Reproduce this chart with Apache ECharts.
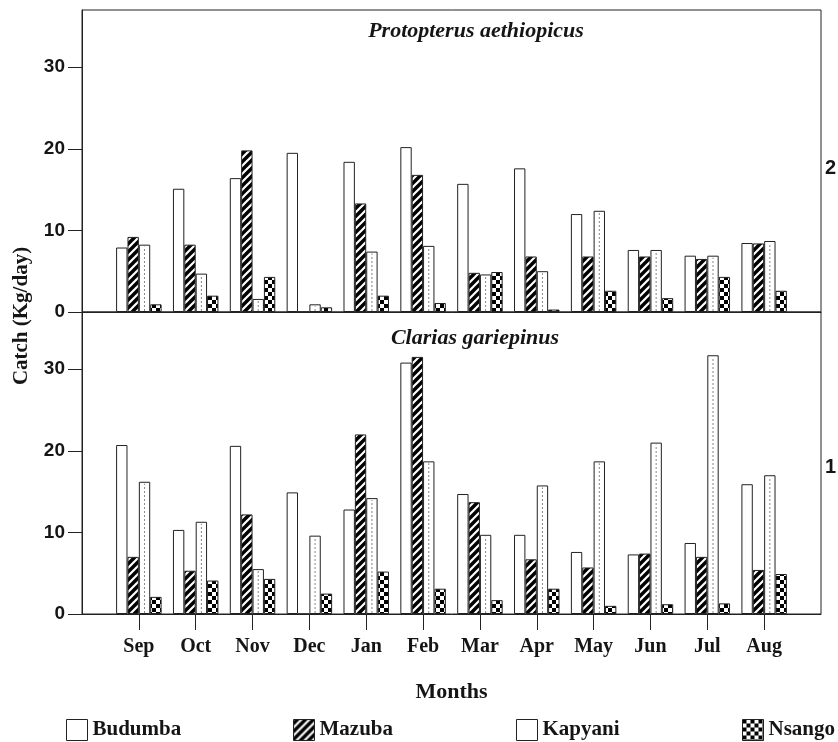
<!DOCTYPE html>
<html><head><meta charset="utf-8">
<script src="https://cdn.jsdelivr.net/npm/echarts@6/dist/echarts.min.js"></script>
<style>html,body{margin:0;padding:0;background:#fff}#c{width:838px;height:742px}</style>
</head><body><div id="c"></div>
<script>
const months = ['Sep','Oct','Nov','Dec','Jan','Feb','Mar','Apr','May','Jun','Jul','Aug'];
const sites = ['Budumba','Mazuba','Kapyani','Nsango'];
const yTicks = [0, 10, 20, 30];
// Protopterus aethiopicus (panel 2)
const protBudumba = [7.9, 15.1, 16.4, 19.5, 18.4, 20.2, 15.7, 17.6, 12.0, 7.6, 6.9, 8.45];
const protMazuba  = [9.2, 8.25, 19.8, 0, 13.3, 16.8, 4.8, 6.8, 6.8, 6.8, 6.5, 8.4];
const protKapyani = [8.25, 4.7, 1.6, 0.94, 7.4, 8.1, 4.6, 5.0, 12.4, 7.6, 6.9, 8.7];
const protNsango  = [0.94, 2.0, 4.3, 0.57, 2.0, 1.1, 4.9, 0.3, 2.6, 1.7, 4.3, 2.6];
// Clarias gariepinus (panel 1)
const clarBudumba = [20.7, 10.3, 20.6, 14.9, 12.8, 30.8, 14.7, 9.7, 7.6, 7.3, 8.7, 15.9];
const clarMazuba  = [7.0, 5.3, 12.2, 0, 22.0, 31.5, 13.7, 6.7, 5.7, 7.4, 7.0, 5.4];
const clarKapyani = [16.2, 11.3, 5.5, 9.6, 14.2, 18.7, 9.7, 15.75, 18.7, 21.0, 31.7, 17.0];
const clarNsango  = [2.1, 4.1, 4.3, 2.5, 5.2, 3.1, 1.7, 3.1, 1.0, 1.2, 1.3, 4.9];

function mk(w,h,fn){const c=document.createElement('canvas');c.width=w;c.height=h;fn(c.getContext('2d'));return c;}
const hatchCanvas = mk(8,8,g=>{g.fillStyle='#000';g.fillRect(0,0,8,8);g.strokeStyle='#fff';g.lineWidth=2.2;g.beginPath();
  g.moveTo(0,8);g.lineTo(8,0);g.moveTo(-2,2);g.lineTo(2,-2);g.moveTo(6,10);g.lineTo(10,6);g.stroke();});
const checkCanvas = mk(8,8,g=>{g.fillStyle='#fff';g.fillRect(0,0,8,8);g.fillStyle='#000';g.fillRect(0,0,4,4);g.fillRect(4,4,4,4);});
const fills = {
  Budumba: '#ffffff',
  Mazuba: {image: hatchCanvas, repeat: 'repeat'},
  Kapyani: '#ffffff',
  Nsango: {image: checkCanvas, repeat: 'repeat'}
};
const cats = [''].concat(months, ['']);
const pad = a => [null].concat(a, [null]);

const serif = 'Liberation Serif, Times New Roman, serif';
const sans = 'Liberation Sans, Arial, sans-serif';
const ink = '#151515';

function barSeries(name, vals, gi){
  return {name, type:'bar', xAxisIndex:gi, yAxisIndex:gi, data:pad(vals),
    barCategoryGap:'20%', barGap:'0%',
    itemStyle:{color:fills[name], borderColor:'#222', borderWidth:1},
    emphasis:{disabled:true}, animation:false};
}
function dotSeries(vals, gi){
  return {type:'custom', xAxisIndex:gi, yAxisIndex:gi, z:5, silent:true, animation:false,
    data: vals.map((v,i)=>[i+1, v]),
    renderItem:function(params, api){
      const v = api.value(1); if(!v || v < 0.5) return null;
      const idx = api.value(0);
      const base = api.coord([idx, 0]); const top = api.coord([idx, v]);
      const band = api.size([1, 0])[0]; const w = band*0.8/4;
      const x = base[0] + w*0.5;
      return {type:'line', shape:{x1:x, y1:base[1]-1, x2:x, y2:top[1]+2},
        style:{stroke:'#888', lineWidth:1, lineDash:[2,2]}};
    }};
}
function yAx(gi){
  return {gridIndex:gi, type:'value', min:0, max:37, interval:10,
    axisLine:{show:true, lineStyle:{color:'#222', width:1}},
    axisTick:{show:true, length:14, customValues:yTicks, lineStyle:{color:'#222'}},
    axisLabel:{customValues:yTicks, margin:17, fontFamily:sans, fontWeight:'bold', fontSize:19, color:ink},
    splitLine:{show:false}};
}

const legends = [61, 288, 511, 737].map((x,i)=>({
  data:[sites[i]], left:x, top:714, itemWidth:21, itemHeight:21, icon:'rect', selectedMode:false,
  itemStyle:{borderColor:'#222', borderWidth:1},
  textStyle:{fontFamily:serif, fontWeight:'bold', fontSize:21, color:ink}
}));

const option = {
  animation:false,
  backgroundColor:'#fff',
  grid:[
    {left:82, right:17, top:10, height:302, show:true, borderColor:'#222', borderWidth:1},
    {left:82, right:17, top:312, height:302, show:true, borderColor:'#222', borderWidth:1}
  ],
  xAxis:[
    {gridIndex:0, type:'category', data:cats, boundaryGap:false,
      axisLine:{show:true, lineStyle:{color:'#222', width:1}}, axisTick:{show:false}, axisLabel:{show:false}},
    {gridIndex:1, type:'category', data:cats, boundaryGap:false,
      axisLine:{show:true, lineStyle:{color:'#222', width:1}},
      axisTick:{show:true, length:16, interval:(i)=> i>0 && i<13, lineStyle:{color:'#222'}},
      axisLabel:{interval:0, margin:23, fontFamily:serif, fontWeight:'bold', fontSize:20, color:ink},
      name:'Months', nameLocation:'middle', nameGap:67,
      nameTextStyle:{fontFamily:serif, fontWeight:'bold', fontSize:22, color:ink}}
  ],
  yAxis:[yAx(0), yAx(1)],
  legend: legends,
  graphic:[
    {type:'text', x:476, y:31, style:{text:'Protopterus aethiopicus', font:'italic bold 22px '+serif, fill:ink, align:'center', verticalAlign:'middle'}},
    {type:'text', x:475, y:338, style:{text:'Clarias gariepinus', font:'italic bold 22px '+serif, fill:ink, align:'center', verticalAlign:'middle'}},
    {type:'text', x:825, y:168, style:{text:'2', font:'bold 20px '+sans, fill:ink, align:'left', verticalAlign:'middle'}},
    {type:'text', x:825, y:467, style:{text:'1', font:'bold 20px '+sans, fill:ink, align:'left', verticalAlign:'middle'}},
    {type:'text', x:22, y:316, rotation:Math.PI/2, style:{text:'Catch (Kg/day)', font:'bold 21px '+serif, fill:ink, align:'center', verticalAlign:'middle'}}
  ],
  series:[
    barSeries('Budumba', protBudumba, 0),
    barSeries('Mazuba', protMazuba, 0),
    barSeries('Kapyani', protKapyani, 0),
    barSeries('Nsango', protNsango, 0),
    dotSeries(protKapyani, 0),
    barSeries('Budumba', clarBudumba, 1),
    barSeries('Mazuba', clarMazuba, 1),
    barSeries('Kapyani', clarKapyani, 1),
    barSeries('Nsango', clarNsango, 1),
    dotSeries(clarKapyani, 1)
  ]
};
const chart = echarts.init(document.getElementById('c'), null, {renderer:'canvas'});
chart.setOption(option);
</script></body></html>
